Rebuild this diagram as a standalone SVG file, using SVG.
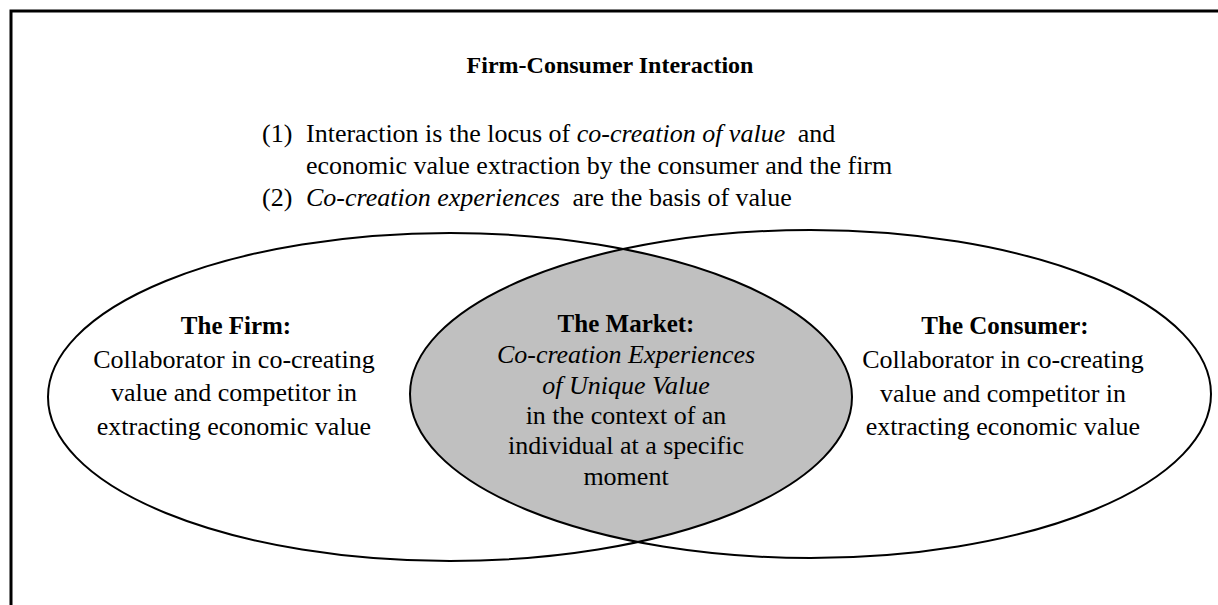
<svg xmlns="http://www.w3.org/2000/svg" width="1218" height="605" viewBox="0 0 1218 605">
  <style>
    text { font-family: "Liberation Serif", "Times New Roman", serif; fill: #000; }
    .title { font-size: 24px; font-weight: bold; text-anchor: middle; }
    .list { font-size: 26px; }
    .head { font-size: 25px; font-weight: bold; text-anchor: middle; }
    .body { font-size: 26px; text-anchor: middle; }
    .it { font-style: italic; }
    .ell { fill: none; stroke: #000; stroke-width: 2; }
  </style>
  <defs>
    <clipPath id="clipLeft">
      <ellipse cx="450" cy="397" rx="402" ry="164"/>
    </clipPath>
  </defs>
  <rect width="1218" height="605" fill="#fff"/>
  <path d="M11,640 V11 H1240" fill="none" stroke="#000" stroke-width="3"/>

  <g id="header">
    <text class="title" x="610" y="73">Firm-Consumer Interaction</text>
    <text class="list" x="262" y="141.5">(1)</text>
    <text class="list" x="306" y="141.5">Interaction is the locus of <tspan class="it">co-creation of value</tspan><tspan dx="6"> and</tspan></text>
    <text class="list" x="306" y="173.5">economic value extraction by the consumer and the firm</text>
    <text class="list" x="262" y="205.5">(2)</text>
    <text class="list" x="306" y="205.5"><tspan class="it">Co-creation experiences</tspan><tspan dx="6"> are the basis of value</tspan></text>
  </g>

  <g id="node-market">
    <ellipse cx="810.5" cy="394" rx="400.5" ry="164" fill="#c0c0c0" clip-path="url(#clipLeft)"/>
    <text class="head" x="626" y="331.5">The Market:</text>
    <text class="body it" x="626" y="363.3">Co-creation Experiences</text>
    <text class="body it" x="626" y="394">of Unique Value</text>
    <text class="body" x="626" y="424">in the context of an</text>
    <text class="body" x="626" y="454">individual at a specific</text>
    <text class="body" x="626" y="485">moment</text>
  </g>

  <g id="node-firm">
    <ellipse class="ell" cx="450" cy="397" rx="402" ry="164"/>
    <text class="head" x="236" y="334">The Firm:</text>
    <text class="body" x="234" y="367.5">Collaborator in co-creating</text>
    <text class="body" x="234" y="401">value and competitor in</text>
    <text class="body" x="234" y="434.5">extracting economic value</text>
  </g>

  <g id="node-consumer">
    <ellipse class="ell" cx="810.5" cy="394" rx="400.5" ry="164"/>
    <text class="head" x="1005" y="333.5">The Consumer:</text>
    <text class="body" x="1003" y="368">Collaborator in co-creating</text>
    <text class="body" x="1003" y="401.5">value and competitor in</text>
    <text class="body" x="1003" y="435">extracting economic value</text>
  </g>

  <g id="connectors"/>
</svg>
